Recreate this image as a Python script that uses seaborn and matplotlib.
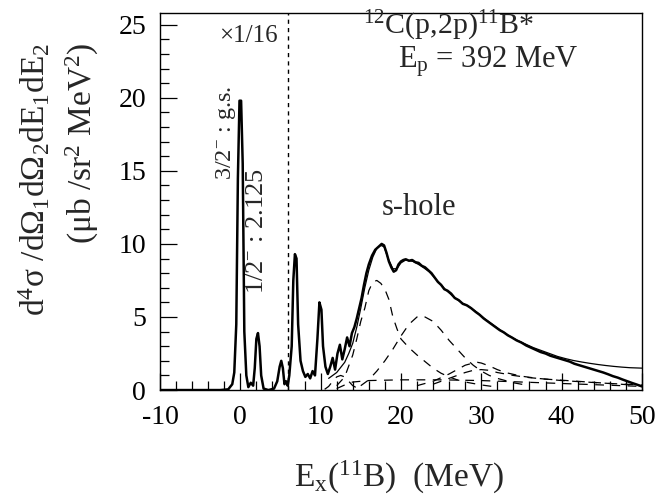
import matplotlib
matplotlib.use("Agg")
import matplotlib.pyplot as plt
from matplotlib.ticker import MultipleLocator
import seaborn as sns

# measured spectrum (left of the dashed line already scaled x1/16)
spec_e = [-10, -8, -6, -4, -2.5, -1.5, -1.0, -0.75, -0.5, -0.3, -0.1, 0.1, 0.3, 0.5, 0.75,
          1.0, 1.3, 1.6, 1.8, 2.0, 2.2, 2.4, 2.6, 2.9, 3.5, 4.2, 4.6, 4.9, 5.1, 5.3, 5.5, 5.7, 5.9,
          6.1, 6.4, 6.6, 6.8, 7.0, 7.2, 7.5, 7.8, 8.1, 8.4, 8.7, 9.0, 9.3, 9.6, 9.85,
          10.1, 10.3, 10.6, 10.9, 11.2, 11.5, 11.8, 12.1, 12.4, 12.7, 13.0, 13.3, 13.6, 13.9,
          14.2, 14.5, 14.8, 15.1, 15.4, 15.7, 16.0, 16.4, 16.8, 17.2, 17.6, 17.9, 18.2, 18.5,
          18.8, 19.1, 19.4, 19.7, 20.0, 20.3, 20.6, 21.0, 21.4, 21.8, 22.2, 22.6, 23.0, 23.4,
          23.8, 24.2, 24.6, 25.0, 25.4, 25.8, 26.25, 26.7, 27.2, 27.7, 28.2, 28.75, 29.3, 29.8,
          30.3, 30.8, 31.3, 31.8, 32.3, 32.8, 33.3, 33.8, 34.4, 35.0, 35.6, 36.2, 36.8, 37.4,
          38.0, 38.6, 39.2, 39.8, 40.4, 41.0, 41.6, 42.2, 42.8, 43.4, 44.0, 44.6, 45.2, 45.8,
          46.4, 47.0, 47.6, 48.2, 48.8, 49.4, 50.0]
spec_y = [0, 0, 0, 0, 0, 0.05, 0.4, 1.2, 4.5, 14.5, 19.8, 19.8, 15.5, 4.0, 1.0,
          0.2, 0.5, 0.3, 1.5, 3.5, 3.9, 3.0, 1.0, 0.1, 0, 0.1, 0.6, 1.6, 2.0, 1.5, 0.4, 0.6, 0.3,
          1.0, 3.0, 7.5, 9.3, 9.0, 4.5, 2.0, 1.3, 0.9, 1.1, 0.8, 1.3, 1.0, 3.5, 6.0,
          5.5, 3.0, 1.6, 1.1, 1.6, 2.2, 1.4, 2.5, 3.1, 2.1, 2.8, 3.6, 3.0, 3.9,
          4.3, 4.9, 5.6, 6.3, 7.2, 8.0, 8.6, 9.2, 9.6, 9.8, 10.0, 9.9, 9.4, 8.8,
          8.4, 8.1, 8.2, 8.6, 8.8, 8.9, 8.95, 8.85, 8.9, 8.75, 8.7, 8.5, 8.4, 8.2,
          8.0, 7.7, 7.4, 7.2, 6.9, 6.8, 6.6, 6.3, 6.15, 5.9, 5.8, 5.6, 5.35, 5.15,
          4.9, 4.7, 4.5, 4.3, 4.1, 3.95, 3.75, 3.6, 3.4, 3.25, 3.05, 2.9, 2.75, 2.6,
          2.5, 2.35, 2.25, 2.15, 2.05, 1.95, 1.8, 1.7, 1.6, 1.5, 1.4, 1.3, 1.2, 1.08,
          0.95, 0.85, 0.72, 0.6, 0.48, 0.37, 0.25]

# total fit (thin solid)
fit_e = [11, 12, 13, 13.5, 14, 14.5, 15, 15.5, 16, 16.5, 17, 17.5, 17.9, 18.4, 19, 19.5, 20,
         20.6, 21.5, 22.5, 23.5, 24.5, 25.5, 26.5, 27.5, 28.5, 29.5, 30.5, 31.5, 32.5, 33.5,
         34.5, 35.5, 36.5, 37.5, 38.5, 39.5, 40.5, 41.5, 42.5, 43.5, 44.5, 45.5, 46.5, 47.5,
         48.5, 50]
fit_y = [0.8, 1.2, 1.9, 2.5, 3.2, 4.3, 5.6, 7.0, 8.2, 9.1, 9.7, 9.9, 9.8, 9.0, 8.3, 8.3, 8.7,
         8.9, 8.8, 8.5, 8.1, 7.5, 6.9, 6.4, 6.0, 5.7, 5.3, 4.85, 4.45, 4.05, 3.7,
         3.4, 3.15, 2.9, 2.7, 2.5, 2.3, 2.15, 2.02, 1.92, 1.83, 1.75, 1.68, 1.62, 1.57,
         1.53, 1.5]

# fitted components (dashed)
comp1_e = [12, 13, 14, 14.5, 15, 15.5, 16, 16.5, 17, 17.5, 18, 18.5, 19, 19.5, 20, 21, 22,
           23, 24, 25, 26, 27, 28, 30, 32]
comp1_y = [0.3, 0.9, 2.4, 3.5, 4.7, 5.6, 6.8, 7.4, 7.5, 7.3, 6.9, 6.2, 5.0, 4.2, 3.5, 2.9, 2.4,
           1.95, 1.5, 1.15, 0.9, 0.7, 0.55, 0.35, 0.2]
comp2_e = [15, 16, 17, 18, 19, 20, 21, 22, 22.5, 23, 24, 25, 26, 27, 28, 29, 30, 31, 32, 34, 36]
comp2_y = [0.3, 0.7, 1.3, 2.0, 2.8, 3.7, 4.5, 5.0, 5.1, 5.0, 4.7, 4.1, 3.4, 2.8, 2.2, 1.7, 1.3,
           1.0, 0.8, 0.5, 0.3]
comp3_e = [22, 24, 26, 27, 28, 29, 29.5, 30, 31, 32, 33, 35, 37, 40, 43, 46, 50]
comp3_y = [0.3, 0.6, 1.1, 1.4, 1.7, 1.85, 1.9, 1.85, 1.65, 1.4, 1.2, 0.95, 0.8, 0.65, 0.55,
           0.45, 0.3]
comp4_e = [24, 26, 28, 29, 30, 31, 32, 34, 36, 38, 42, 46, 50]
comp4_y = [0.4, 0.8, 1.2, 1.35, 1.4, 1.35, 1.2, 1.0, 0.85, 0.75, 0.6, 0.45, 0.35]
comp5_e = [10.5, 11, 11.5, 12, 12.5, 13, 13.5, 14, 14.5, 15]
comp5_y = [0.05, 0.25, 0.6, 0.9, 1.0, 0.9, 0.6, 0.3, 0.15, 0.05]
comp6_e = [12, 13, 14, 16, 20, 25, 30, 35, 40, 45, 50]
comp6_y = [0.1, 0.35, 0.55, 0.65, 0.7, 0.7, 0.65, 0.55, 0.45, 0.35, 0.25]

components = [(comp1_e, comp1_y), (comp2_e, comp2_y), (comp3_e, comp3_y),
              (comp4_e, comp4_y), (comp5_e, comp5_y), (comp6_e, comp6_y)]

scale_border = 5.9

sns.set_style("ticks")
plt.rcParams.update({
    "font.family": ["Liberation Serif", "DejaVu Serif"],
    "mathtext.fontset": "custom",
    "mathtext.rm": "Liberation Serif",
    "mathtext.it": "Liberation Serif:italic",
    "mathtext.bf": "Liberation Serif:bold",
    "axes.unicode_minus": False,
    "axes.linewidth": 1.0,
    "axes.edgecolor": "black",
})

fig = plt.figure(figsize=(6.57, 4.95), dpi=100)
ax = fig.add_axes([0.2435, 0.212, 0.7335, 0.7617])

sns.lineplot(x=spec_e, y=spec_y, ax=ax, color="black", lw=1.8, sort=False,
             estimator=None)
sns.lineplot(x=fit_e, y=fit_y, ax=ax, color="black", lw=0.9, sort=False, estimator=None)
for ce, cy in components:
    sns.lineplot(x=ce, y=cy, ax=ax, color="black", lw=0.9, sort=False, estimator=None,
                 linestyle=(0, (7, 6)))

ax.axvline(scale_border, color="black", lw=1.0, linestyle=(0, (3, 3)))

ax.set_xlim(-10, 50)
ax.set_ylim(0, 25.8)
ax.xaxis.set_major_locator(MultipleLocator(10))
ax.xaxis.set_minor_locator(MultipleLocator(2))
ax.yaxis.set_major_locator(MultipleLocator(5))
ax.yaxis.set_minor_locator(MultipleLocator(1))
ax.tick_params(which="both", direction="in", top=False, right=False, labelsize=20,
               width=0.9, colors="black")
ax.tick_params(which="major", length=12)
ax.tick_params(axis="y", which="major", pad=10)
ax.tick_params(axis="x", which="major", pad=11)
ax.tick_params(which="minor", length=6.5)
ax.set_xlabel("")
ax.set_ylabel("")
for s in ax.spines.values():
    s.set_visible(True)
    s.set_color("black")

ax.text(4.6, 23.8, "×1/16", fontsize=18, ha="right", va="baseline")
ax.text(-1.75, 14.4, "3/2$^{-}$ : g.s.", fontsize=17.5, rotation=90, ha="center", va="bottom")
ax.text(2.1, 6.6, "1/2$^{-}$ : 2.125", fontsize=19, rotation=90, ha="center", va="bottom")
ax.text(22.2, 12.0, "s-hole", fontsize=22, ha="center", va="baseline")
ax.text(15.25, 24.4, "$^{12}$C(p,2p)$^{11}$B*", fontsize=21.5, ha="left", va="baseline")
ax.text(19.6, 22.1, "E$_{\\rm p}$ = 392 MeV", fontsize=22, ha="left", va="baseline")

fig.text(0.607, 0.016, "E$_{\\rm x}$($^{11}$B)  (MeV)", fontsize=24, ha="center",
         va="baseline")
fig.text(35 / 657, 1 - 43 / 495, "d$^4$σ /dΩ$_1$dΩ$_2$dE$_1$dE$_2$", fontsize=24,
         rotation=90, ha="center", va="top")
fig.text(82 / 657, 1 - 43 / 495, "(μb /sr$^2$ MeV$^2$)", fontsize=24,
         rotation=90, ha="center", va="top")

fig.savefig("out.png", dpi=100)
